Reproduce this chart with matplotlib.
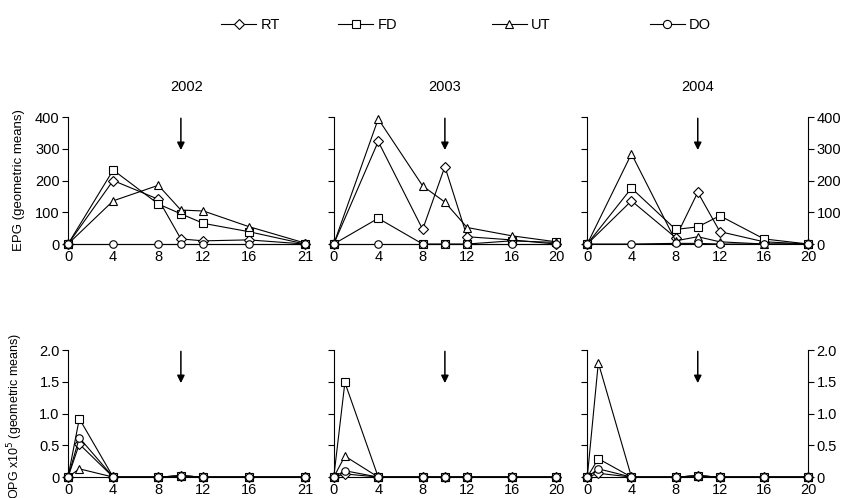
import numpy as np
import matplotlib
matplotlib.use("Agg")
import matplotlib.pyplot as plt
from matplotlib.lines import Line2D

plt.rcParams['font.family'] = ['Liberation Sans', 'DejaVu Sans']

# ---------------------------------------------------------------
# data
# ---------------------------------------------------------------
years = ['2002', '2003', '2004']
groups = ['RT', 'FD', 'UT', 'DO']
markers = {'RT': 'D', 'FD': 's', 'UT': '^', 'DO': 'o'}
msize = {'RT': 5.0, 'FD': 5.2, 'UT': 5.6, 'DO': 5.4}

epg_days = {
    '2002': [0, 4, 8, 10, 12, 16, 21],
    '2003': [0, 4, 8, 10, 12, 16, 20],
    '2004': [0, 4, 8, 10, 12, 16, 20],
}
epg = {
    '2002': {'RT': [0, 200, 141, 16, 10, 13, 0],
             'FD': [0, 233, 126, 95, 65, 39, 0],
             'UT': [0, 136, 185, 107, 104, 55, 3],
             'DO': [0, 0, 0, 0, 0, 0, 0]},
    '2003': {'RT': [0, 323, 46, 244, 23, 13, 0],
             'FD': [0, 81, 0, 0, 0, 10, 5],
             'UT': [0, 394, 183, 132, 52, 26, 7],
             'DO': [0, 0, 0, 0, 0, 0, 0]},
    '2004': {'RT': [0, 136, 20, 163, 39, 7, 0],
             'FD': [0, 176, 46, 54, 89, 16, 0],
             'UT': [0, 284, 10, 23, 7, 0, 0],
             'DO': [0, 0, 2, 2, 0, 0, 0]},
}

opg_days = {
    '2002': [0, 1, 4, 8, 10, 12, 16, 21],
    '2003': [0, 1, 4, 8, 10, 12, 16, 20],
    '2004': [0, 1, 4, 8, 10, 12, 16, 20],
}
opg = {
    '2002': {'RT': [0, 0.52, 0, 0, 0.02, 0, 0, 0],
             'FD': [0, 0.92, 0, 0, 0.02, 0, 0, 0],
             'UT': [0, 0.13, 0, 0, 0.02, 0, 0, 0],
             'DO': [0, 0.62, 0, 0, 0.02, 0, 0, 0]},
    '2003': {'RT': [0, 0.05, 0, 0, 0, 0, 0, 0],
             'FD': [0, 1.49, 0, 0, 0, 0, 0, 0],
             'UT': [0, 0.33, 0, 0, 0, 0, 0, 0],
             'DO': [0, 0.10, 0, 0, 0, 0, 0, 0]},
    '2004': {'RT': [0, 0.06, 0, 0, 0.02, 0, 0, 0],
             'FD': [0, 0.29, 0, 0, 0.02, 0, 0, 0],
             'UT': [0, 1.80, 0, 0, 0.02, 0, 0, 0],
             'DO': [0, 0.13, 0, 0, 0.02, 0, 0, 0]},
}

xticks = {'2002': [0, 4, 8, 12, 16, 21],
          '2003': [0, 4, 8, 12, 16, 20],
          '2004': [0, 4, 8, 12, 16, 20]}
epg_ticks = [0, 100, 200, 300, 400]
opg_ticks = [0, 0.5, 1.0, 1.5, 2.0]
opg_ticklabels = ['0', '0.5', '1.0', '1.5', '2.0']
treat_day = 10

# ---------------------------------------------------------------
# layout
# ---------------------------------------------------------------
fig = plt.figure(figsize=(8.45, 4.98), dpi=100)
lefts = [0.0805, 0.395, 0.695]
widths = [0.2805, 0.263, 0.2615]
row_bottom = {'epg': 0.510, 'opg': 0.042}
row_h = 0.255
fs = 10.5


def style_axis(ax, year, ticks, ticklabels, col):
    ax.set_xticks(xticks[year])
    ax.set_yticks(ticks)
    ax.set_yticklabels(ticklabels)
    ax.tick_params(labelsize=fs, length=4, width=0.8, direction='out')
    ax.tick_params(axis='x', length=0, pad=4)
    ax.tick_params(axis='y', pad=2)
    for s in ['top', 'right']:
        ax.spines[s].set_visible(False)
    for s in ['left', 'bottom']:
        ax.spines[s].set_linewidth(0.8)
    if col > 0:
        ax.tick_params(axis='y', labelleft=False)
    if col == 2:
        ax.spines['right'].set_visible(True)
        ax.spines['right'].set_linewidth(0.8)
        ax.tick_params(axis='y', right=True, labelright=True)


for row, days, vals, top, ticks, labels in [
        ('epg', epg_days, epg, 400, epg_ticks, [str(t) for t in epg_ticks]),
        ('opg', opg_days, opg, 2.0, opg_ticks, opg_ticklabels)]:
    for col, year in enumerate(years):
        ax = fig.add_axes([lefts[col], row_bottom[row], widths[col], row_h])
        for g in groups:
            ax.plot(days[year], vals[year][g], color='black', lw=0.8,
                    marker=markers[g], ms=msize[g],
                    mfc='white', mec='black', mew=0.8, clip_on=False,
                    zorder=3)
        ax.set_xlim(0, days[year][-1])
        ax.set_ylim(0, top)
        style_axis(ax, year, ticks, labels, col)
        ax.annotate('', xy=(treat_day, top * 0.74), xytext=(treat_day, top * 0.99),
                    arrowprops=dict(arrowstyle='-|>', color='black', lw=1.1,
                                    mutation_scale=11, shrinkA=0, shrinkB=0))
        if row == 'epg':
            ax.set_title(year, fontsize=fs, pad=19)
        if col == 0:
            if row == 'epg':
                ax.set_ylabel('EPG (geometric means)', fontsize=9.5)
                ax.yaxis.set_label_coords(-0.18, 0.5)
            else:
                ax.set_ylabel('OPG x10$^5$ (geometric means)', fontsize=9.0)
                ax.yaxis.set_label_coords(-0.18, 0.48)

# legend entries spread across the top, as in the reference
legend_x = [0.262, 0.400, 0.582, 0.769]
for g, lx in zip(groups, legend_x):
    h = Line2D([0], [0], color='black', lw=0.8, marker=markers[g], ms=msize[g] + 0.5,
               mfc='white', mec='black', mew=0.8)
    fig.legend([h], [g], loc='center left', bbox_to_anchor=(lx, 0.95),
               frameon=False, fontsize=fs, handlelength=2.4,
               handletextpad=0.3, borderaxespad=0, borderpad=0)

fig.savefig('out.png', dpi=100)
